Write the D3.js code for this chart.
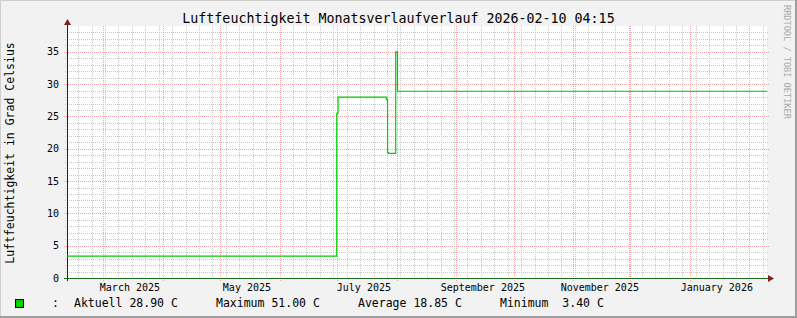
<!DOCTYPE html>
<html>
<head>
<meta charset="utf-8">
<script src="https://cdn.jsdelivr.net/npm/d3@7"></script>
<style>
  body { margin: 0; background: #f2f2f2; }
  svg { display: block; }
  text { font-family: 'DejaVu Sans Mono', monospace; white-space: pre; }
</style>
</head>
<body>
<script>
// Data
const startTime = '2025-02-10 04:15'
const endTime = '2026-02-10 04:15'

// step changes of the sensor line (time, value)
const stepTimes = [
  '2025-02-10 04:15',
  '2025-06-30 20:00',
  '2025-07-01 12:00',
  '2025-07-26 16:00',
  '2025-07-27 08:00',
  '2025-07-27 20:00',
  '2025-07-31 14:00',
  '2025-08-01 12:00',
  '2026-02-10 04:15'
]
const stepValues = [3.4, 25.5, 28.0, 27.6, 19.4, 19.3, 35.0, 28.9, 28.9]

const yTickLabels = ['0', '5', '10', '15', '20', '25', '30', '35']
const xTickLabels = ['March 2025', 'May 2025', 'July 2025', 'September 2025', 'November 2025', 'January 2026']

const title = 'Luftfeuchtigkeit Monatsverlaufverlauf 2026-02-10 04:15'
const yTitle = 'Luftfeuchtigkeit in Grad Celsius'
const legendItems = ['Aktuell 28.90 C', 'Maximum 51.00 C', 'Average 18.85 C', 'Minimum  3.40 C']
const watermark = 'RRDTOOL / TOBI OETIKER'

// Layout
const width = 797
const height = 318
const plotLeft = 67
const plotRight = 767
const plotTop = 26
const plotBottom = 278
const lineColor = '#00cc00'

const parseTime = d3.timeParse('%Y-%m-%d %H:%M')
const parseMonth = d3.timeParse('%B %Y')

function initializeSVG () {
  const svg = d3.select('body')
    .append('svg')
    .attr('width', width)
    .attr('height', height)

  svg.append('rect').attr('width', width).attr('height', height).attr('fill', '#f2f2f2')
  // 3d frame
  svg.append('path').attr('d', `M0,${height} V0 H${width}`).attr('fill', 'none')
    .attr('stroke', '#cfcfcf').attr('stroke-width', 2)
  svg.append('path').attr('d', `M0,${height - 1} H${width - 1} V0`).attr('fill', 'none')
    .attr('stroke', '#9e9e9e').attr('stroke-width', 2)
  return svg
}

function drawGrid (svg, x, y) {
  svg.append('rect')
    .attr('x', plotLeft).attr('y', plotTop)
    .attr('width', plotRight - plotLeft).attr('height', plotBottom - plotTop)
    .attr('fill', '#fff')

  const g = svg.append('g').attr('shape-rendering', 'crispEdges')
  const [t0, t1] = x.domain()
  const minor = '#c9c9c9'
  const major = '#f2a8a8'

  // minor grid: weeks and single units
  d3.timeSunday.range(t0, t1).forEach(d => {
    const px = Math.round(x(d)) + 0.5
    g.append('line').attr('x1', px).attr('x2', px).attr('y1', plotTop).attr('y2', plotBottom + 2)
      .attr('stroke', minor).attr('stroke-dasharray', '1,1')
  })
  d3.range(1, 39).filter(v => v % 5 !== 0).forEach(v => {
    const py = Math.round(y(v)) + 0.5
    g.append('line').attr('x1', plotLeft - 2).attr('x2', plotRight + 2).attr('y1', py).attr('y2', py)
      .attr('stroke', minor).attr('stroke-dasharray', '1,1')
  })

  // major grid: months and every 5 units
  d3.timeMonth.range(d3.timeMonth.ceil(t0), t1).forEach(d => {
    const px = Math.round(x(d)) + 0.5
    g.append('line').attr('x1', px).attr('x2', px).attr('y1', plotTop).attr('y2', plotBottom + 3)
      .attr('stroke', major).attr('stroke-dasharray', '1,1')
  })
  yTickLabels.map(Number).filter(v => v > 0).forEach(v => {
    const py = Math.round(y(v)) + 0.5
    g.append('line').attr('x1', plotLeft - 3).attr('x2', plotRight + 2).attr('y1', py).attr('y2', py)
      .attr('stroke', major).attr('stroke-dasharray', '1,1')
  })
}

function drawAxes (svg, x, y) {
  const g = svg.append('g')

  // y axis
  g.append('line').attr('x1', plotLeft + 0.5).attr('x2', plotLeft + 0.5)
    .attr('y1', plotBottom + 3).attr('y2', plotTop - 3)
    .attr('stroke', '#1f1f1f')
  g.append('path').attr('d', `M${plotLeft - 3},${plotTop - 1} L${plotLeft + 4},${plotTop - 1} L${plotLeft + 0.5},${plotTop - 7} Z`)
    .attr('fill', '#801f1f')

  // x axis
  g.append('line').attr('x1', plotLeft - 3).attr('x2', plotRight + 3)
    .attr('y1', plotBottom + 0.5).attr('y2', plotBottom + 0.5)
    .attr('stroke', '#1e6b1e')
  g.append('path').attr('d', `M${plotRight + 1},${plotBottom - 3} L${plotRight + 1},${plotBottom + 4} L${plotRight + 7},${plotBottom + 0.5} Z`)
    .attr('fill', '#801f1f')

  // labels
  yTickLabels.forEach(label => {
    g.append('text')
      .attr('x', plotLeft - 8)
      .attr('y', y(+label) + 3.5)
      .attr('text-anchor', 'end')
      .style('font-size', '10px')
      .text(label)
  })

  xTickLabels.forEach(label => {
    const month = parseMonth(label)
    const mid = d3.timeDay.offset(month, 14)
    g.append('text')
      .attr('x', x(mid))
      .attr('y', 291)
      .attr('text-anchor', 'middle')
      .style('font-size', '10px')
      .text(label)
  })
}

function drawLine (svg, x, y) {
  const points = stepTimes.map((t, i) => ({ date: parseTime(t), value: stepValues[i] }))
  const line = d3.line()
    .x(d => x(d.date))
    .y(d => y(d.value))
    .curve(d3.curveStepAfter)

  svg.append('path')
    .datum(points)
    .attr('d', line)
    .attr('fill', 'none')
    .attr('stroke', lineColor)
    .attr('stroke-width', 1.2)
}

function drawTexts (svg) {
  svg.append('text')
    .attr('x', width / 2)
    .attr('y', 23)
    .attr('text-anchor', 'middle')
    .style('font-size', '13.3px')
    .text(title)

  svg.append('text')
    .attr('transform', 'translate(14,153) rotate(-90)')
    .attr('text-anchor', 'middle')
    .style('font-size', '11.5px')
    .text(yTitle)

  svg.append('text')
    .attr('transform', 'translate(784,5) rotate(90)')
    .style('font-size', '8.6px')
    .attr('fill', '#aaaaaa')
    .text(watermark)

  // legend
  svg.append('rect')
    .attr('x', 15.5).attr('y', 299.5)
    .attr('width', 8).attr('height', 8)
    .attr('fill', lineColor)
    .attr('stroke', '#000')

  svg.append('text')
    .attr('x', 52)
    .attr('y', 307)
    .style('font-size', '11.5px')
    .text(':')

  legendItems.forEach((item, i) => {
    svg.append('text')
      .attr('x', 74 + i * 142)
      .attr('y', 307)
      .style('font-size', '11.5px')
      .text(item)
  })
}

// Main
function main () {
  const svg = initializeSVG()

  const x = d3.scaleTime()
    .domain([parseTime(startTime), parseTime(endTime)])
    .range([plotLeft, plotRight])

  const y = d3.scaleLinear()
    .domain([0, 39])
    .range([plotBottom, plotTop])

  drawGrid(svg, x, y)
  drawAxes(svg, x, y)
  drawLine(svg, x, y)
  drawTexts(svg)
}

main()
</script>
</body>
</html>
